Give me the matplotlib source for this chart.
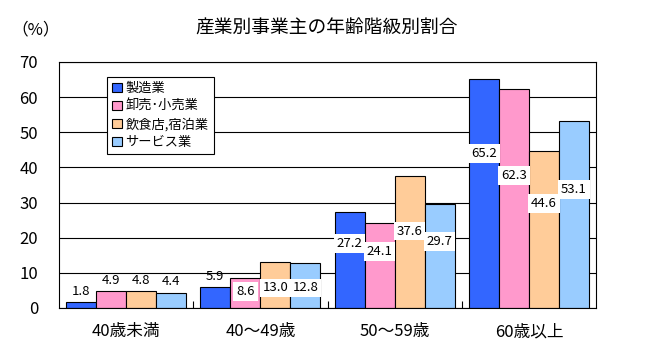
import matplotlib
matplotlib.use("Agg")
import matplotlib.pyplot as plt
import numpy as np
from matplotlib.patches import Patch

plt.rcParams['font.family'] = ['Noto Sans CJK JP', 'DejaVu Sans']

age_groups = ['40歳未満', '40～49歳', '50～59歳', '60歳以上']
industries = ['製造業', '卸売･小売業', '飲食店,宿泊業', 'サービス業']
manufacturing = [1.8, 5.9, 27.2, 65.2]
retail = [4.9, 8.6, 24.1, 62.3]
food_lodging = [4.8, 13.0, 37.6, 44.6]
services = [4.4, 12.8, 29.7, 53.1]
series = [manufacturing, retail, food_lodging, services]
colors = ['#3366FF', '#FF99CC', '#FFCC99', '#99CCFF']

# where the boxed value labels sit inside the bars (None = label above the bar)
label_heights = [
  [None, None, 18.4, 44.0],
  [None, 4.6, 16.0, 37.8],
  [None, 5.7, 21.9, 29.8],
  [None, 5.7, 18.9, 33.8],
]

fig = plt.figure(figsize=(6.57, 3.55), dpi=100)
ax = fig.add_axes([59 / 657, 47 / 355, 537 / 657, 246 / 355])

x = np.arange(len(age_groups))
w = 0.2235
for i, (vals, c) in enumerate(zip(series, colors)):
  xs = x + (i - 1.5) * w
  ax.bar(xs, vals, w, color=c, edgecolor='black', linewidth=0.8, zorder=2)
  for j, v in enumerate(vals):
    h = label_heights[i][j]
    if h is None:
      ax.annotate('%.1f' % v, (xs[j], v), xytext=(0, 3), textcoords='offset points',
                  ha='center', va='bottom', fontsize=9.5, zorder=4)
    else:
      ax.text(xs[j], h, '%.1f' % v, ha='center', va='center', fontsize=9.5, zorder=4,
              bbox=dict(boxstyle='square,pad=0.22', fc='white', ec='none'))

ax.set_xlim(-0.5, len(age_groups) - 0.5)
ax.set_ylim(0, 70)
ax.set_yticks(range(0, 71, 10))
ax.grid(axis='y', color='black', linewidth=0.8)
ax.set_axisbelow(True)
ax.set_xticks(x, age_groups)
ax.set_xticks(x[:-1] + 0.5, minor=True)
ax.tick_params(axis='y', length=0, labelsize=12, pad=15)
ax.tick_params(axis='x', which='major', length=0, labelsize=12, pad=11)
ax.tick_params(axis='x', which='minor', direction='in', length=5, width=0.8)
for s in ax.spines.values():
  s.set_linewidth(0.8)

handles = [Patch(facecolor=c, edgecolor='black', linewidth=0.8) for c in colors]
leg = ax.legend(handles, industries, loc='upper left',
                bbox_to_anchor=((107 - 59) / 537, (308 - 77) / 246),
                fontsize=9.5, fancybox=False, framealpha=1, edgecolor='black',
                handlelength=0.7, handleheight=0.7, handletextpad=0.3,
                borderpad=0.4, labelspacing=0.35, borderaxespad=0)
leg.get_frame().set_linewidth(0.8)

fig.text(327 / 657, 1 - 28 / 355, '産業別事業主の年齢階級別割合', ha='center', va='center', fontsize=13.5)
fig.text(36 / 657, 1 - 30 / 355, '（%）', ha='center', va='center', fontsize=12)

fig.savefig('out.png', dpi=100)
